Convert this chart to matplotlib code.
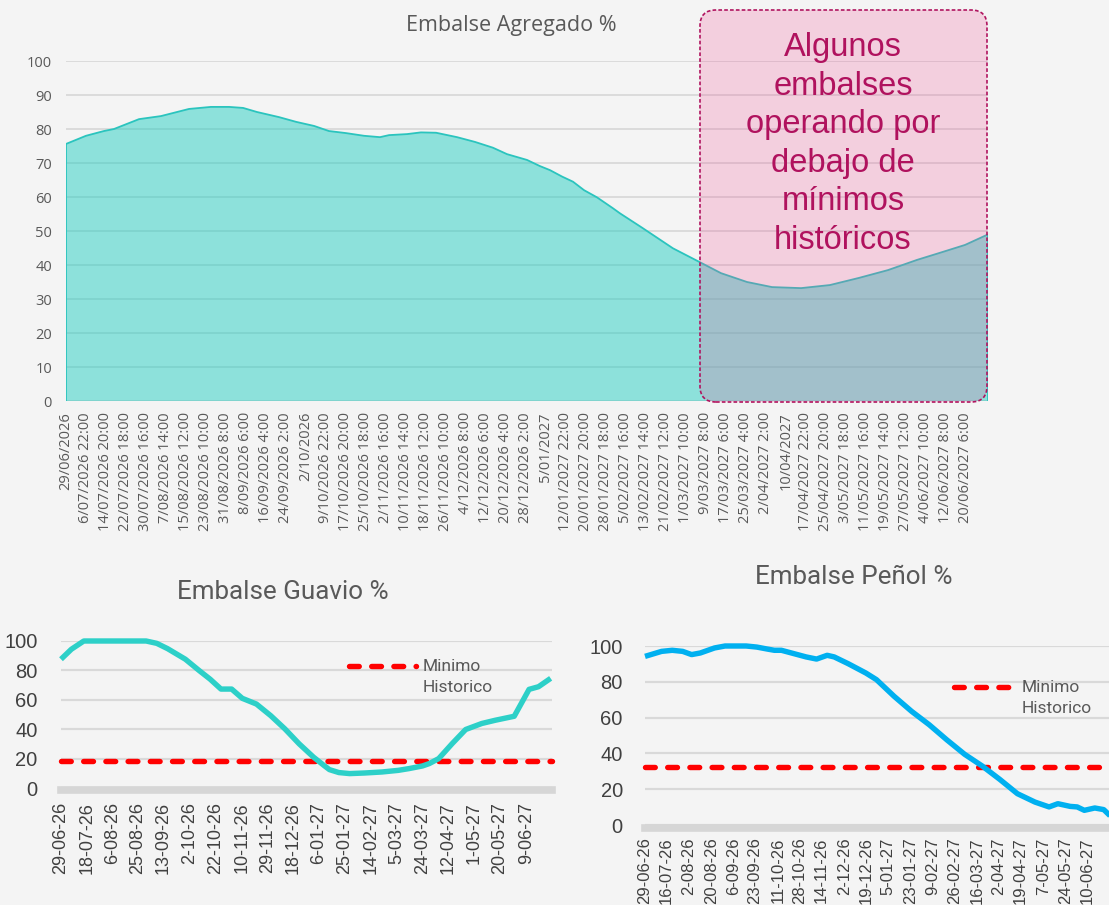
import matplotlib
matplotlib.use("Agg")
import matplotlib.pyplot as plt
from matplotlib.patches import FancyBboxPatch
from matplotlib.lines import Line2D
from datetime import datetime

START = datetime(2026, 6, 29)

# ---------------- Embalse Agregado % (days since 29/06/2026) ----------------
agregado_dias = [0, 7.9, 15.0, 19.0, 28.9, 37.6, 48.7, 57.4, 64.5, 70.1,
                 75.6, 84.3, 91.1, 98.2, 104.1, 110.8, 118.0, 124.3, 127.9, 135.0,
                 140.5, 146.5, 154.8, 161.9, 169.0, 174.6, 182.5, 187.6, 191.6, 196.4,
                 200.7, 205.1, 210.2, 216.5, 219.3, 228.0, 240.3, 251.0, 259.3, 269.6,
                 279.5, 291.0, 302.4, 313.9, 325.4, 336.9, 345.6, 355.9, 365.0]
agregado_pct = [75.6, 78.0, 79.4, 80.0, 82.9, 83.8, 85.9, 86.5, 86.5, 86.2,
                85.0, 83.5, 82.1, 80.9, 79.4, 78.8, 78.0, 77.6, 78.2, 78.5,
                79.0, 78.9, 77.6, 76.2, 74.5, 72.6, 70.9, 69.1, 67.9, 66.0,
                64.5, 62.0, 59.9, 56.7, 55.2, 51.0, 44.9, 40.8, 37.6, 35.0,
                33.5, 33.2, 34.1, 36.2, 38.5, 41.5, 43.5, 45.9, 49.0]
agregado_labels = [
    "29/06/2026", "6/07/2026 22:00", "14/07/2026 20:00", "22/07/2026 18:00",
    "30/07/2026 16:00", "7/08/2026 14:00", "15/08/2026 12:00", "23/08/2026 10:00",
    "31/08/2026 8:00", "8/09/2026 6:00", "16/09/2026 4:00", "24/09/2026 2:00",
    "2/10/2026", "9/10/2026 22:00", "17/10/2026 20:00", "25/10/2026 18:00",
    "2/11/2026 16:00", "10/11/2026 14:00", "18/11/2026 12:00", "26/11/2026 10:00",
    "4/12/2026 8:00", "12/12/2026 6:00", "20/12/2026 4:00", "28/12/2026 2:00",
    "5/01/2027", "12/01/2027 22:00", "20/01/2027 20:00", "28/01/2027 18:00",
    "5/02/2027 16:00", "13/02/2027 14:00", "21/02/2027 12:00", "1/03/2027 10:00",
    "9/03/2027 8:00", "17/03/2027 6:00", "25/03/2027 4:00", "2/04/2027 2:00",
    "10/04/2027", "17/04/2027 22:00", "25/04/2027 20:00", "3/05/2027 18:00",
    "11/05/2027 16:00", "19/05/2027 14:00", "27/05/2027 12:00", "4/06/2027 10:00",
    "12/06/2027 8:00", "20/06/2027 6:00"]
agregado_paso_horas = 190

# ---------------- Embalse Guavio % ----------------
guavio_dias = [0, 7.7, 16.9, 34, 55.2, 63.1, 71, 79, 92.2, 102.7,
               110.6, 118.6, 126.5, 134.4, 144.9, 155.5, 166, 176.6, 187.2, 195,
               199, 206, 214, 225, 238, 250, 258, 268, 273, 280,
               290, 300, 312, 322, 336, 347, 354, 363]
guavio_pct = [87.6, 94.4, 100, 100, 100, 100, 98.4, 94.8, 87.6, 79.7,
              74.0, 67.3, 67.3, 61.0, 57.1, 49.2, 40.2, 30.0, 21.0, 15.3,
              12.5, 10.5, 9.8, 10.2, 10.9, 12.0, 13.2, 15.0, 16.6, 20.0,
              30.2, 39.8, 43.9, 46.1, 48.8, 67.1, 68.9, 74.6]
guavio_minimo = 18.5
guavio_labels = ["29-06-26", "18-07-26", "6-08-26", "25-08-26", "13-09-26",
                 "2-10-26", "22-10-26", "10-11-26", "29-11-26", "18-12-26",
                 "6-01-27", "25-01-27", "14-02-27", "5-03-27", "24-03-27",
                 "12-04-27", "1-05-27", "20-05-27", "9-06-27"]

# ---------------- Embalse Peñol % ----------------
penol_dias = [0, 13, 21.3, 29.5, 36.5, 43.3, 54.4, 62.7, 79.2, 87.5,
              95.7, 101.3, 106.8, 126.1, 134.3, 142.6, 148.1, 159.1, 172.9, 181.2,
              195, 208.7, 222.5, 236.4, 250.2, 263.9, 277.7, 291.5, 305.3, 316.3,
              323.2, 332.8, 338.3, 343.9, 352.1, 359.1, 364]
penol_pct = [94.2, 97.0, 97.6, 97.0, 95.2, 96.1, 98.9, 100, 100, 99.4,
             98.3, 97.6, 97.6, 93.9, 92.7, 94.8, 93.9, 90.1, 84.9, 81.2,
             71.9, 63.5, 56.0, 47.5, 39.5, 33.0, 25.5, 17.5, 12.8, 10.1,
             11.9, 10.4, 10.1, 8.2, 9.5, 8.6, 5.2]
penol_minimo = 32.5
penol_labels = ["29-06-26", "16-07-26", "2-08-26", "20-08-26", "6-09-26",
                "23-09-26", "11-10-26", "28-10-26", "14-11-26", "2-12-26",
                "19-12-26", "5-01-27", "23-01-27", "9-02-27", "26-02-27",
                "16-03-27", "2-04-27", "19-04-27", "7-05-27", "24-05-27",
                "10-06-27"]

nota = "Algunos\nembalses\noperando por\ndebajo de\nmínimos\nhistóricos"

# ---------------------------------------------------------------------------
W, H = 1109, 905
BG = "#F4F4F4"
GRID = "#D9D9D9"
fig = plt.figure(figsize=(W / 100, H / 100), dpi=100)
fig.patch.set_facecolor(BG)


def px_axes(left, top, right, bottom):
    return fig.add_axes([left / W, 1 - bottom / H, (right - left) / W, (bottom - top) / H])


def clean(ax):
    ax.set_facecolor("none")
    for s in ax.spines.values():
        s.set_visible(False)
    ax.tick_params(length=0)


def label_days(labels):
    return [(datetime.strptime(l, "%d-%m-%y") - START).days for l in labels]


# ---- top: aggregated area chart ----
ax = px_axes(66, 61, 988, 401)
clean(ax)
ax.set_xlim(0, 365)
ax.set_ylim(0, 100)
ax.set_yticks(range(0, 101, 10))
ax.yaxis.grid(True, color=GRID, lw=1.3, zorder=0)
ax.set_axisbelow(True)
ax.fill_between(agregado_dias, agregado_pct, 0, facecolor="#27CFC3", alpha=0.5,
                lw=0, zorder=2)
ax.plot(agregado_dias, agregado_pct, color="#2BC4BE", lw=1.3, zorder=3)
ax.vlines([agregado_dias[0], agregado_dias[-1]], 0, [agregado_pct[0], agregado_pct[-1]],
          color="#2BC4BE", lw=1.3, zorder=3)
ax.set_xticks([k * agregado_paso_horas / 24 for k in range(len(agregado_labels))])
ax.set_xticklabels(agregado_labels, rotation=90, va="top", ha="center")
ax.tick_params(axis="x", pad=8, labelsize=10.5, labelcolor="#595959")
ax.tick_params(axis="y", pad=10, labelsize=10.5, labelcolor="#595959")
for t in ax.get_xticklabels() + ax.get_yticklabels():
    t.set_fontfamily("Open Sans")
fig.text(5.11, 8.80, "Embalse Agregado %", transform=fig.dpi_scale_trans,
         ha="center", va="center", fontsize=15.5, color="#595959", family="Open Sans")

# highlighted period box
caja = FancyBboxPatch((7.00, 5.03), 2.87, 3.92,
                      boxstyle="round,pad=0,rounding_size=0.16",
                      transform=fig.dpi_scale_trans,
                      facecolor=(0.94, 0.30, 0.58, 0.22),
                      edgecolor="#B0145F", lw=1.2, linestyle=(0, (2.2, 1.3)))
fig.patches.append(caja)
fig.text(8.43, 7.61, nota, transform=fig.dpi_scale_trans, ha="center", va="center",
         fontsize=23.5, color="#B0125E", family="Liberation Sans", linespacing=1.31)


def reservoir(axr, dias, pct, minimo, labels, color, title, title_xy,
              leg_x0, leg_x1, leg_y, x_fs, ylab_pad, xlab_pad, bar_off):
    clean(axr)
    axr.set_xlim(0, 364)
    axr.set_ylim(0, 100)
    axr.set_yticks(range(0, 101, 20))
    axr.yaxis.grid(True, color=GRID, lw=1.6, zorder=0)
    axr.set_axisbelow(True)
    axr.axhline(bar_off, color="#D6D6D6", lw=5.5, zorder=1, clip_on=False)
    axr.plot([0, 364], [minimo, minimo], color="#FF0000", lw=3.9,
             linestyle=(0, (1.8, 2.3)), dash_capstyle="round", zorder=3, clip_on=False)
    axr.plot(dias, pct, color=color, lw=3.9, solid_joinstyle="round",
             solid_capstyle="butt", zorder=4, clip_on=False)
    axr.set_xticks(label_days(labels))
    axr.set_xticklabels(labels, rotation=90, va="top", ha="center")
    axr.tick_params(axis="x", pad=xlab_pad, labelsize=x_fs, labelcolor="#404040")
    axr.tick_params(axis="y", pad=ylab_pad, labelsize=14.5, labelcolor="#404040")
    for t in axr.get_xticklabels() + axr.get_yticklabels():
        t.set_fontfamily("Liberation Sans")
    fig.text(title_xy[0], title_xy[1], title, transform=fig.dpi_scale_trans,
             ha="center", va="center", fontsize=18.7, color="#595959", family="Roboto")
    fig.add_artist(Line2D([leg_x0, leg_x1], [leg_y, leg_y], transform=fig.dpi_scale_trans,
                          color="#FF0000", lw=3.9, linestyle=(0, (1.8, 2.3)),
                          dash_capstyle="round"))
    fig.text(leg_x1 + 0.07, leg_y, "Minimo", transform=fig.dpi_scale_trans,
             ha="left", va="center", fontsize=12.5, color="#595959", family="Roboto")
    fig.text(leg_x1 + 0.07, leg_y - 0.21, "Historico", transform=fig.dpi_scale_trans,
             ha="left", va="center", fontsize=12.5, color="#595959", family="Roboto")


ax_g = px_axes(61, 641, 552, 788)
reservoir(ax_g, guavio_dias, guavio_pct, guavio_minimo, guavio_labels, "#2DD0C8",
          "Embalse Guavio %", (2.83, 3.13), 3.49, 4.16, 2.39, 13, 17, 10, -1.6)

ax_p = px_axes(645, 646, 1110, 825)
reservoir(ax_p, penol_dias, penol_pct, penol_minimo, penol_labels, "#00B0F0",
          "Embalse Peñol %", (8.54, 3.28), 9.54, 10.15, 2.18, 12, 16, 9, -1.8)

fig.savefig("out.png", dpi=100, facecolor=BG)
